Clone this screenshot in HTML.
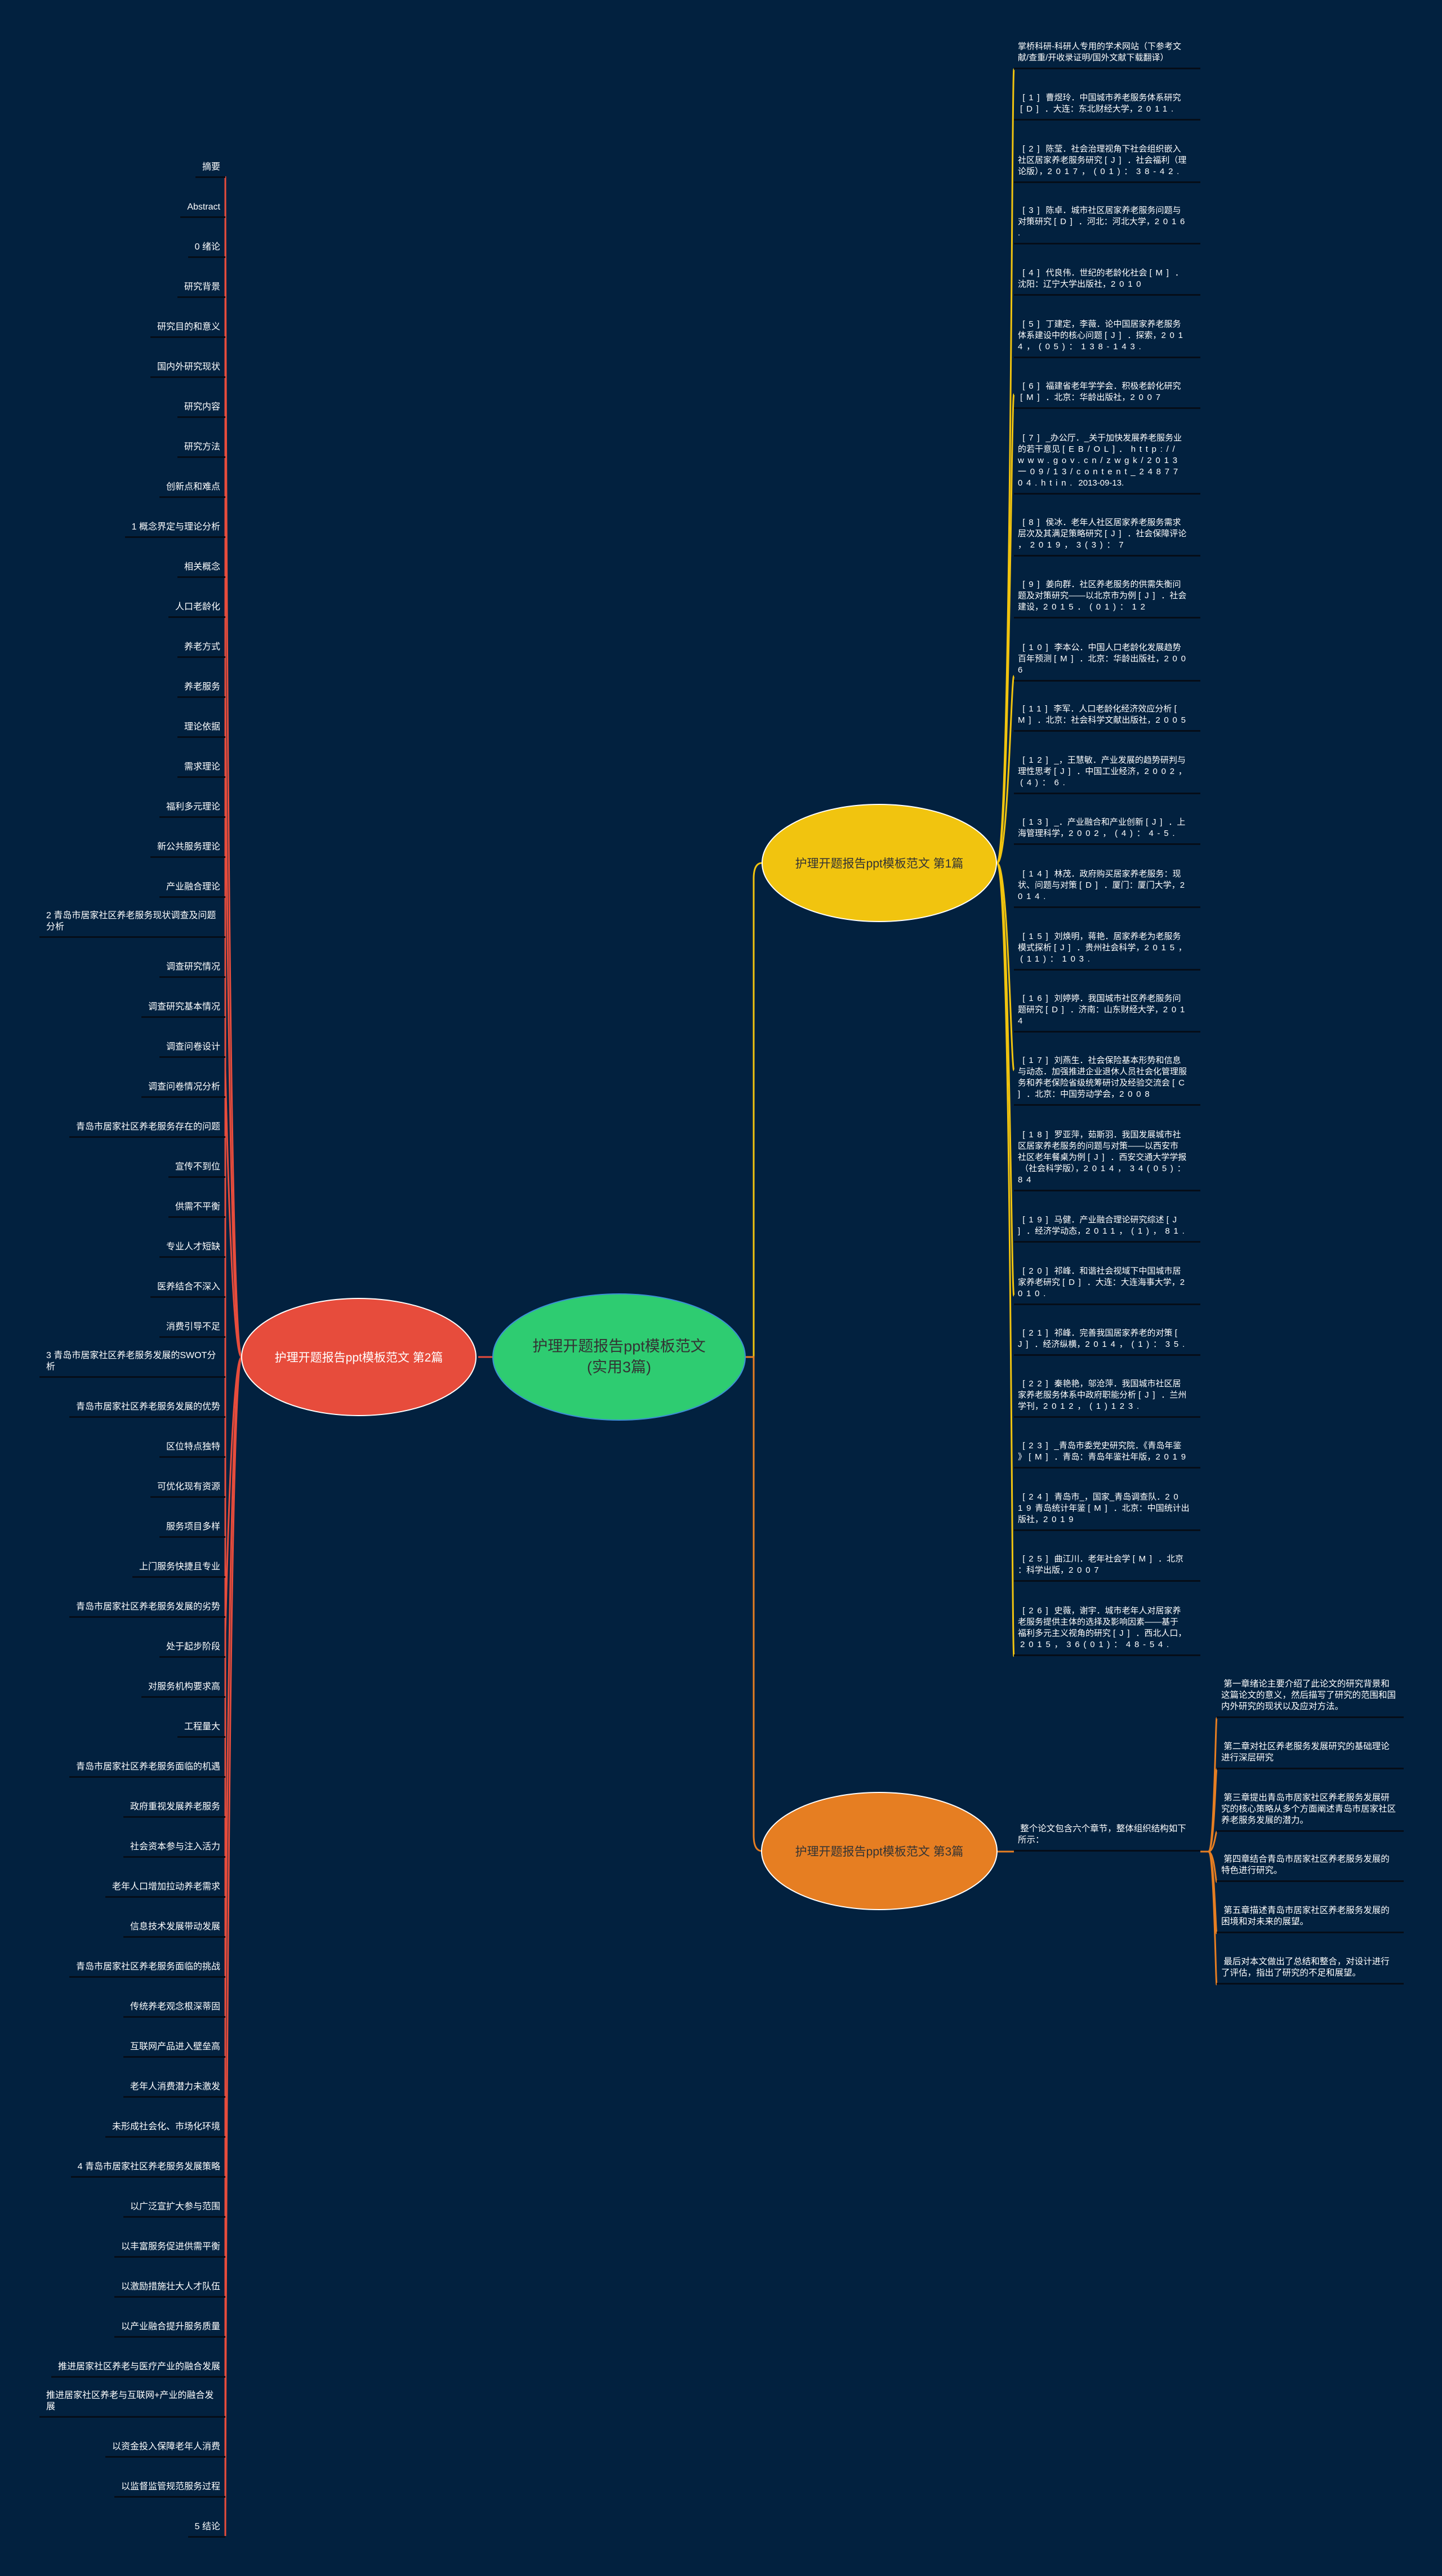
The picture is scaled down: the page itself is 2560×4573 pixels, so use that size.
<!DOCTYPE html>
<html><head><meta charset="utf-8">
<style>
html,body{margin:0;padding:0;}
body{width:2560px;height:4573px;background:#02213f;position:relative;overflow:hidden;font-family:"Liberation Sans","Noto Sans CJK SC",sans-serif;color:#fff;}
svg{position:absolute;left:0;top:0;}
.L{position:absolute;right:2160px;height:60px;display:flex;align-items:flex-end;justify-content:flex-end;padding:0 9px 6px 12px;border-bottom:3px solid #050d18;font-size:16px;line-height:20px;white-space:nowrap;box-sizing:border-box;}
.L.w{width:330px;white-space:normal;justify-content:flex-start;text-align:left;}
.R{position:absolute;left:1800px;width:331px;height:200px;display:flex;align-items:flex-end;padding:0 0 7px 7px;border-bottom:3px solid #050d18;font-size:15px;line-height:20px;white-space:nowrap;box-sizing:border-box;}
.R i{font-style:normal;letter-spacing:.45em;}
.O{position:absolute;left:2160px;width:332px;height:200px;display:flex;align-items:flex-end;padding:0 0 7px 8px;border-bottom:3px solid #050d18;font-size:15.5px;line-height:20px;white-space:nowrap;box-sizing:border-box;}
.E{position:absolute;display:flex;align-items:center;justify-content:center;text-align:center;}
</style></head><body>
<svg width="2560" height="4573" viewBox="0 0 2560 4573">
<g fill="none" stroke="#e74c3c" stroke-width="3">
<path d="M400 313 V4502"/>
<path d="M849 2409 H875"/>
<path d="M429 2409 C410 2409 402 1200 400 313"/>
<path d="M429 2409 C410 2409 402 3600 400 4502"/>
<path d="M429 2409 C412 2409 404 1800 400 1200"/>
<path d="M429 2409 C412 2409 404 3000 400 3600"/>
<path d="M429 2409 C414 2409 405 2100 400 1900"/>
<path d="M429 2409 C414 2409 405 2700 400 2900"/>
</g>
<g fill="none" stroke="#f1c40f" stroke-width="3">
<path d="M1323 2409 H1338 V1560 Q1338 1532 1353 1532"/>
<path d="M1770 1532 C1795 1532 1796 123 1800 123"/>
<path d="M1770 1532 C1795 1532 1796 2940 1800 2940"/>
<path d="M1770 1532 C1792 1532 1795 700 1800 700"/>
<path d="M1770 1532 C1792 1532 1795 2300 1800 2300"/>
<path d="M1770 1532 C1790 1532 1795 1200 1800 1200"/>
<path d="M1770 1532 C1790 1532 1795 1900 1800 1900"/>
</g>
<g fill="none" stroke="#e67e22" stroke-width="3">
<path d="M1323 2409 H1338 V3258 Q1338 3286 1353 3286"/>
<path d="M1770 3287 H1800"/>
<path d="M2131 3287 H2145"/>
<path d="M2145 3287 C2156 3287 2158 3050 2160 3050"/>
<path d="M2145 3287 C2156 3287 2158 3141 2160 3141"/>
<path d="M2145 3287 C2156 3287 2158 3252 2160 3252"/>
<path d="M2145 3287 C2156 3287 2158 3341 2160 3341"/>
<path d="M2145 3287 C2156 3287 2158 3432 2160 3432"/>
<path d="M2145 3287 C2156 3287 2158 3523 2160 3523"/>
</g>
<ellipse cx="637" cy="2409" rx="208" ry="104" fill="#e74c3c" stroke="#fff" stroke-width="2"/>
<ellipse cx="1099" cy="2409" rx="224" ry="112" fill="#2ecc71" stroke="#3b8fd4" stroke-width="2"/>
<ellipse cx="1561" cy="1532" rx="208" ry="104" fill="#f1c40f" stroke="#fff" stroke-width="2"/>
<ellipse cx="1561" cy="3286" rx="209" ry="104" fill="#e67e22" stroke="#fff" stroke-width="2"/>
</svg>

<div class="E" style="left:429px;top:2305px;width:416px;height:208px;font-size:21px;color:#fff;">护理开题报告ppt模板范文 第2篇</div>
<div class="E" style="left:875px;top:2297px;width:448px;height:224px;font-size:27px;line-height:37px;color:#333;">护理开题报告ppt模板范文<br>(实用3篇)</div>
<div class="E" style="left:1353px;top:1428px;width:416px;height:208px;font-size:21px;color:#333;">护理开题报告ppt模板范文 第1篇</div>
<div class="E" style="left:1352px;top:3182px;width:418px;height:208px;font-size:21px;color:#333;">护理开题报告ppt模板范文 第3篇</div>

<div class="L" style="top:256px">摘要</div>
<div class="L" style="top:327px">Abstract</div>
<div class="L" style="top:398px">0 绪论</div>
<div class="L" style="top:469px">研究背景</div>
<div class="L" style="top:540px">研究目的和意义</div>
<div class="L" style="top:611px">国内外研究现状</div>
<div class="L" style="top:682px">研究内容</div>
<div class="L" style="top:753px">研究方法</div>
<div class="L" style="top:824px">创新点和难点</div>
<div class="L" style="top:895px">1 概念界定与理论分析</div>
<div class="L" style="top:966px">相关概念</div>
<div class="L" style="top:1037px">人口老龄化</div>
<div class="L" style="top:1108px">养老方式</div>
<div class="L" style="top:1179px">养老服务</div>
<div class="L" style="top:1250px">理论依据</div>
<div class="L" style="top:1321px">需求理论</div>
<div class="L" style="top:1392px">福利多元理论</div>
<div class="L" style="top:1463px">新公共服务理论</div>
<div class="L" style="top:1534px">产业融合理论</div>
<div class="L w" style="top:1605px">2 青岛市居家社区养老服务现状调查及问题分析</div>
<div class="L" style="top:1676px">调查研究情况</div>
<div class="L" style="top:1747px">调查研究基本情况</div>
<div class="L" style="top:1818px">调查问卷设计</div>
<div class="L" style="top:1889px">调查问卷情况分析</div>
<div class="L" style="top:1960px">青岛市居家社区养老服务存在的问题</div>
<div class="L" style="top:2031px">宣传不到位</div>
<div class="L" style="top:2102px">供需不平衡</div>
<div class="L" style="top:2173px">专业人才短缺</div>
<div class="L" style="top:2244px">医养结合不深入</div>
<div class="L" style="top:2315px">消费引导不足</div>
<div class="L w" style="top:2386px">3 青岛市居家社区养老服务发展的SWOT分析</div>
<div class="L" style="top:2457px">青岛市居家社区养老服务发展的优势</div>
<div class="L" style="top:2528px">区位特点独特</div>
<div class="L" style="top:2599px">可优化现有资源</div>
<div class="L" style="top:2670px">服务项目多样</div>
<div class="L" style="top:2741px">上门服务快捷且专业</div>
<div class="L" style="top:2812px">青岛市居家社区养老服务发展的劣势</div>
<div class="L" style="top:2883px">处于起步阶段</div>
<div class="L" style="top:2954px">对服务机构要求高</div>
<div class="L" style="top:3025px">工程量大</div>
<div class="L" style="top:3096px">青岛市居家社区养老服务面临的机遇</div>
<div class="L" style="top:3167px">政府重视发展养老服务</div>
<div class="L" style="top:3238px">社会资本参与注入活力</div>
<div class="L" style="top:3309px">老年人口增加拉动养老需求</div>
<div class="L" style="top:3380px">信息技术发展带动发展</div>
<div class="L" style="top:3451px">青岛市居家社区养老服务面临的挑战</div>
<div class="L" style="top:3522px">传统养老观念根深蒂固</div>
<div class="L" style="top:3593px">互联网产品进入壁垒高</div>
<div class="L" style="top:3664px">老年人消费潜力未激发</div>
<div class="L" style="top:3735px">未形成社会化、市场化环境</div>
<div class="L" style="top:3806px">4 青岛市居家社区养老服务发展策略</div>
<div class="L" style="top:3877px">以广泛宣扩大参与范围</div>
<div class="L" style="top:3948px">以丰富服务促进供需平衡</div>
<div class="L" style="top:4019px">以激励措施壮大人才队伍</div>
<div class="L" style="top:4090px">以产业融合提升服务质量</div>
<div class="L" style="top:4161px">推进居家社区养老与医疗产业的融合发展</div>
<div class="L w" style="top:4232px">推进居家社区养老与互联网+产业的融合发展</div>
<div class="L" style="top:4303px">以资金投入保障老年人消费</div>
<div class="L" style="top:4374px">以监督监管规范服务过程</div>
<div class="L" style="top:4445px">5 结论</div>

<div class="R" style="top:-77px">掌桥科研-科研人专用的学术网站（下参考文<br>献/查重/开收录证明/国外文献下载翻译）</div>
<div class="R" style="top:14px"><div>&nbsp;&nbsp;<i>[1]</i> 曹煜玲．中国城市养老服务体系研究<br>&nbsp;<i>[D]</i> ．大连：东北财经大学，<i>2011.</i></div></div>
<div class="R" style="top:125px"><div>&nbsp;&nbsp;<i>[2]</i> 陈莹．社会治理视角下社会组织嵌入<br>社区居家养老服务研究 <i>[J]</i> ．社会福利（理<br>论版），<i>2017，(01)：38-42.</i></div></div>
<div class="R" style="top:234px"><div>&nbsp;&nbsp;<i>[3]</i> 陈卓．城市社区居家养老服务问题与<br>对策研究 <i>[D]</i> ．河北：河北大学，<i>2016</i><br>.</div></div>
<div class="R" style="top:325px"><div>&nbsp;&nbsp;<i>[4]</i> 代良伟．世纪的老龄化社会 <i>[M]</i> ．<br>沈阳：辽宁大学出版社，<i>2010</i></div></div>
<div class="R" style="top:436px"><div>&nbsp;&nbsp;<i>[5]</i> 丁建定，李薇．论中国居家养老服务<br>体系建设中的核心问题 <i>[J]</i> ．探索，<i>201</i><br><i>4，(05)：138-143.</i></div></div>
<div class="R" style="top:526px"><div>&nbsp;&nbsp;<i>[6]</i> 福建省老年学学会．积极老龄化研究<br>&nbsp;<i>[M]</i> ．北京：华龄出版社，<i>2007</i></div></div>
<div class="R" style="top:678px"><div>&nbsp;&nbsp;<i>[7]</i> _办公厅．_关于加快发展养老服务业<br>的若干意见 <i>[EB/OL]．http://</i><br><i>www.gov.cn/zwgk/2013</i><br><i>一09/13/content_24877</i><br><i>04.htin.</i> 2013-09-13.</div></div>
<div class="R" style="top:788px"><div>&nbsp;&nbsp;<i>[8]</i> 侯冰．老年人社区居家养老服务需求<br>层次及其满足策略研究 <i>[J]</i> ．社会保障评论<br><i>，2019，3(3)：7</i></div></div>
<div class="R" style="top:898px"><div>&nbsp;&nbsp;<i>[9]</i> 姜向群．社区养老服务的供需失衡问<br>题及对策研究——以北京市为例 <i>[J]</i> ．社会<br>建设，<i>2015．(01)：12</i></div></div>
<div class="R" style="top:1010px"><div>&nbsp;&nbsp;<i>[10]</i> 李本公．中国人口老龄化发展趋势<br>百年预测 <i>[M]</i> ．北京：华龄出版社，<i>200</i><br><i>6</i></div></div>
<div class="R" style="top:1099px"><div>&nbsp;&nbsp;<i>[11]</i> 李军．人口老龄化经济效应分析 <i>[</i><br><i>M]</i> ．北京：社会科学文献出版社，<i>2005</i></div></div>
<div class="R" style="top:1210px"><div>&nbsp;&nbsp;<i>[12]</i> _，王慧敏．产业发展的趋势研判与<br>理性思考 <i>[J]</i> ．中国工业经济，<i>2002，</i><br>&nbsp;<i>(4)：6.</i></div></div>
<div class="R" style="top:1300px"><div>&nbsp;&nbsp;<i>[13]</i> _．产业融合和产业创新 <i>[J]</i> ．上<br>海管理科学，<i>2002，(4)：4-5.</i></div></div>
<div class="R" style="top:1412px"><div>&nbsp;&nbsp;<i>[14]</i> 林茂．政府购买居家养老服务：现<br>状、问题与对策 <i>[D]</i> ．厦门：厦门大学，<i>2</i><br><i>014.</i></div></div>
<div class="R" style="top:1523px"><div>&nbsp;&nbsp;<i>[15]</i> 刘焕明，蒋艳．居家养老为老服务<br>模式探析 <i>[J]</i> ．贵州社会科学，<i>2015，</i><br>&nbsp;<i>(11)：103.</i></div></div>
<div class="R" style="top:1633px"><div>&nbsp;&nbsp;<i>[16]</i> 刘婷婷．我国城市社区养老服务问<br>题研究 <i>[D]</i> ．济南：山东财经大学，<i>201</i><br><i>4</i></div></div>
<div class="R" style="top:1763px"><div>&nbsp;&nbsp;<i>[17]</i> 刘燕生．社会保险基本形势和信息<br>与动态．加强推进企业退休人员社会化管理服<br>务和养老保险省级统筹研讨及经验交流会 <i>[C</i><br><i>]</i> ．北京：中国劳动学会，<i>2008</i></div></div>
<div class="R" style="top:1915px"><div>&nbsp;&nbsp;<i>[18]</i> 罗亚萍，茹斯羽．我国发展城市社<br>区居家养老服务的问题与对策——以西安市<br>社区老年餐桌为例 <i>[J]</i> ．西安交通大学学报<br>&nbsp;（社会科学版），<i>2014，34(05)：</i><br><i>84</i></div></div>
<div class="R" style="top:2006px"><div>&nbsp;&nbsp;<i>[19]</i> 马健．产业融合理论研究综述 <i>[J</i><br><i>]</i> ．经济学动态，<i>2011，(1)，81.</i></div></div>
<div class="R" style="top:2117px"><div>&nbsp;&nbsp;<i>[20]</i> 祁峰．和谐社会视域下中国城市居<br>家养老研究 <i>[D]</i> ．大连：大连海事大学，<i>2</i><br><i>010.</i></div></div>
<div class="R" style="top:2207px"><div>&nbsp;&nbsp;<i>[21]</i> 祁峰．完善我国居家养老的对策 <i>[</i><br><i>J]</i> ．经济纵横，<i>2014，(1)：35.</i></div></div>
<div class="R" style="top:2317px"><div>&nbsp;&nbsp;<i>[22]</i> 秦艳艳，邬沧萍．我国城市社区居<br>家养老服务体系中政府职能分析 <i>[J]</i> ．兰州<br>学刊，<i>2012，(1)123.</i></div></div>
<div class="R" style="top:2407px"><div>&nbsp;&nbsp;<i>[23]</i> _青岛市委党史研究院．《青岛年鉴<br>》 <i>[M]</i> ．青岛：青岛年鉴社年版，<i>2019</i></div></div>
<div class="R" style="top:2518px"><div>&nbsp;&nbsp;<i>[24]</i> 青岛市_，国家_青岛调查队．<i>20</i><br><i>19</i>青岛统计年鉴 <i>[M]</i> ．北京：中国统计出<br>版社，<i>2019</i></div></div>
<div class="R" style="top:2608px"><div>&nbsp;&nbsp;<i>[25]</i> 曲江川．老年社会学 <i>[M]</i> ．北京<br>：科学出版，<i>2007</i></div></div>
<div class="R" style="top:2740px"><div>&nbsp;&nbsp;<i>[26]</i> 史薇，谢宇．城市老年人对居家养<br>老服务提供主体的选择及影响因素——基于<br>福利多元主义视角的研究 <i>[J]</i> ．西北人口，<br>&nbsp;<i>2015，36(01)：48-54.</i></div></div>

<div class="R" style="top:3087px;font-size:15.5px;">&nbsp;整个论文包含六个章节，整体组织结构如下<br>所示：</div>

<div class="O" style="top:2850px"><div>&nbsp;第一章绪论主要介绍了此论文的研究背景和<br>这篇论文的意义，然后描写了研究的范围和国<br>内外研究的现状以及应对方法。</div></div>
<div class="O" style="top:2941px"><div>&nbsp;第二章对社区养老服务发展研究的基础理论<br>进行深层研究</div></div>
<div class="O" style="top:3052px"><div>&nbsp;第三章提出青岛市居家社区养老服务发展研<br>究的核心策略从多个方面阐述青岛市居家社区<br>养老服务发展的潜力。</div></div>
<div class="O" style="top:3141px"><div>&nbsp;第四章结合青岛市居家社区养老服务发展的<br>特色进行研究。</div></div>
<div class="O" style="top:3232px"><div>&nbsp;第五章描述青岛市居家社区养老服务发展的<br>困境和对未来的展望。</div></div>
<div class="O" style="top:3323px"><div>&nbsp;最后对本文做出了总结和整合，对设计进行<br>了评估，指出了研究的不足和展望。</div></div>
</body></html>
